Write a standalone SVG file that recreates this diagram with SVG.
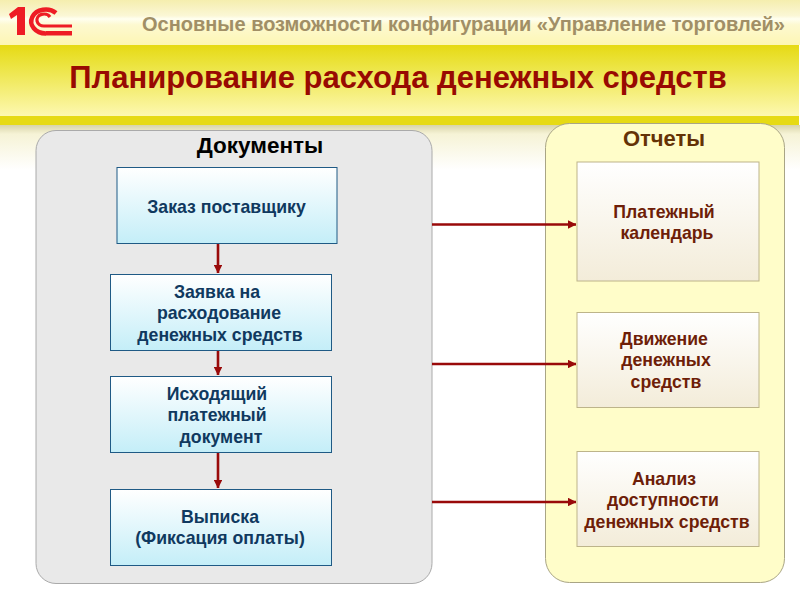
<svg xmlns="http://www.w3.org/2000/svg" width="800" height="600" viewBox="0 0 800 600">
<style>
text{font-family:"Liberation Sans",Arial,sans-serif;font-weight:700;text-anchor:middle}
.doc{fill:url(#blue);stroke:#1f5a85;stroke-width:1}
.rep{fill:url(#cream);stroke:#bdb48a;stroke-width:1}
.dt{font-size:17.7px;fill:#10395f}
.rt{font-size:17.7px;fill:#6e1e08}
.c{stroke:#990a0a;stroke-width:2.6;fill:none}
</style>
<defs>
<linearGradient id="top" x1="0" y1="0" x2="0" y2="1"><stop offset="0" stop-color="#f5eeae"/><stop offset=".35" stop-color="#fbf7d6"/><stop offset=".42" stop-color="#fffff0"/><stop offset=".55" stop-color="#fdf9d0"/><stop offset="1" stop-color="#fdf6b4"/></linearGradient>
<linearGradient id="band" x1="0" y1="0" x2="0" y2="1"><stop offset="0" stop-color="#e6da14"/><stop offset=".25" stop-color="#ebe33a"/><stop offset="1" stop-color="#fdf8b0"/></linearGradient>
<linearGradient id="fade" x1="0" y1="0" x2="0" y2="1"><stop offset="0" stop-color="#d8d4a8"/><stop offset=".2" stop-color="#f6f3d6"/><stop offset="1" stop-color="#ffffff"/></linearGradient>
<linearGradient id="blue" x1="0" y1="0" x2="0" y2="1"><stop offset="0" stop-color="#ffffff"/><stop offset="1" stop-color="#c4eef8"/></linearGradient>
<linearGradient id="cream" x1="0" y1="0" x2="0" y2="1"><stop offset="0" stop-color="#ffffff"/><stop offset="1" stop-color="#f3ecd9"/></linearGradient>
<marker id="ah" viewBox="0 0 10 10" refX="9.5" refY="5" markerWidth="3.4" markerHeight="3.4" orient="auto"><path d="M0 0L10 5L0 10Z" fill="#990a0a"/></marker>
</defs>
<rect width="800" height="600" fill="#fff"/>
<rect width="800" height="45" fill="url(#top)"/>
<rect y="125" width="800" height="45" fill="url(#fade)"/>
<rect x="0" y="45" width="799" height="71" fill="url(#band)"/>
<rect x="0" y="116" width="799" height="9" fill="#e6da14"/>
<g id="logo">
<path d="M9 14L18 7H25V35H17V15L11 19Z" fill="#ee1c25"/>
<path d="M56 13A14.500 12 0 1 0 46 33.500" fill="none" stroke="#ee1c25" stroke-width="4.500"/>
<path d="M50 17A7 6 0 1 0 44 26H72" fill="none" stroke="#ee1c25" stroke-width="3.200"/>
<rect x="46" y="31" width="26" height="4.500" fill="#ee1c25"/>
</g>
<text x="463.500" y="31" style="font-size:20px;fill:#a18f66">Основные возможности конфигурации «Управление торговлей»</text>
<text x="398" y="88" style="font-size:31px;fill:#980a02">Планирование расхода денежных средств</text>
<g id="documents"><rect x="36" y="130.500" width="396" height="453" rx="20" fill="#e9e9e9" stroke="#aaa"/>
<text x="260" y="153" style="font-size:22.500px;fill:#000">Документы</text></g>
<g id="reports"><rect x="545.500" y="123.500" width="239" height="459" rx="24" fill="#fffdc9" stroke="#a9a585"/>
<text x="664" y="146" style="font-size:22px;fill:#643205">Отчеты</text></g>
<g id="connectors">
<path class="c" d="M218 244V273" marker-end="url(#ah)"/>
<path class="c" d="M218 350V375" marker-end="url(#ah)"/>
<path class="c" d="M218 452V488" marker-end="url(#ah)"/>
<path class="c" d="M432 224.500H576" marker-end="url(#ah)"/>
<path class="c" d="M432 364H576" marker-end="url(#ah)"/>
<path class="c" d="M432 502H576" marker-end="url(#ah)"/>
</g>
<g id="n1"><rect class="doc" x="117" y="167.500" width="220" height="76"/><text class="dt" x="226.500" y="213">Заказ поставщику</text></g>
<g id="n2"><rect class="doc" x="110.500" y="274.500" width="221" height="76"/><text class="dt" x="217" y="298">Заявка на</text><text class="dt" x="219" y="319">расходование</text><text class="dt" x="220" y="341">денежных средств</text></g>
<g id="n3"><rect class="doc" x="110.500" y="376.500" width="221" height="76"/><text class="dt" x="217" y="400">Исходящий</text><text class="dt" x="217" y="421">платежный</text><text class="dt" x="221" y="443">документ</text></g>
<g id="n4"><rect class="doc" x="110.500" y="489.500" width="221" height="76"/><text class="dt" x="220" y="523">Выписка</text><text class="dt" x="220" y="544">(Фиксация оплаты)</text></g>
<g id="r1"><rect class="rep" x="577" y="162" width="182" height="119"/><text class="rt" x="664" y="218">Платежный</text><text class="rt" x="667" y="239">календарь</text></g>
<g id="r2"><rect class="rep" x="577" y="312.500" width="182" height="95"/><text class="rt" x="664" y="345">Движение</text><text class="rt" x="666" y="366">денежных</text><text class="rt" x="666" y="388">средств</text></g>
<g id="r3"><rect class="rep" x="577" y="451.500" width="182" height="95"/><text class="rt" x="664" y="485">Анализ</text><text class="rt" x="663" y="506">доступности</text><text class="rt" x="667" y="528">денежных средств</text></g>
</svg>
